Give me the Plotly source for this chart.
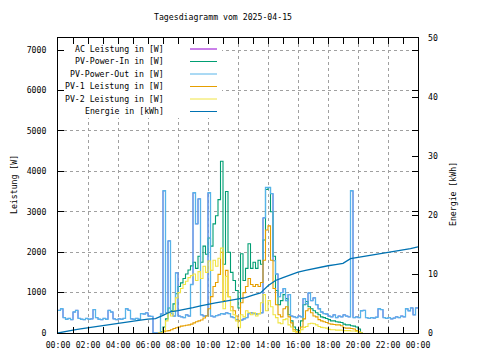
import pandas as pd
import plotly.graph_objects as go

# ---------------- data ----------------
title_text = "Tagesdiagramm vom 2025-04-15"

# full-day grid (10 min) for the output / AC power
times_full = pd.date_range("2025-04-15 00:00", "2025-04-16 00:00", freq="10min")
# daytime grid (10 min) for PV inputs
times_day = pd.date_range("2025-04-15 06:40", "2025-04-15 20:20", freq="10min")
# energy grid (30 min)
times_energy = pd.date_range("2025-04-15 00:00", "2025-04-16 00:00", freq="30min")

pv_power_out_w = [
    560, 600, 380, 340, 360, 330,
    520, 560, 360, 340, 330, 360,
    340, 350, 580, 380, 340, 330,
    360, 340, 560, 520, 350, 330,
    350, 340, 360, 600, 560, 350,
    340, 360, 340, 480, 470, 500,
    420, 410, 0, 0, 0, 470,
    3520, 500, 2280, 480, 420, 1490,
    420, 400, 380, 450, 420, 1200,
    3470, 2700, 3320, 450, 420, 430,
    3470, 420, 400, 430, 450, 480,
    470, 500, 480, 400, 380, 330,
    300, 320, 350, 380, 480, 500,
    480, 470, 480, 500, 2850, 3600,
    3600, 3450, 1790, 1460, 900, 1000,
    1100, 800, 950, 420, 400, 380,
    420, 400, 850, 720, 990, 800,
    870, 700, 600, 520, 480, 470,
    420, 400, 450, 380, 420, 400,
    450, 420, 400, 3520, 380, 400,
    380, 550, 560, 380, 360, 380,
    370, 390, 600, 580, 380, 360,
    380, 350, 370, 400, 380, 420,
    400, 600, 550, 620, 450, 620,
    620,
]
ac_leistung_w = pv_power_out_w  # AC power follows the output curve

pv_power_in_w = [
    0, 30,
    150, 350, 620, 550, 720, 970,
    1150, 1240, 1350, 1460, 1560, 1660,
    1750, 1600, 1900, 1750, 2150, 1950,
    2350, 2150, 2700, 2900, 3300, 4250,
    1700, 3500, 2000, 1500, 1300, 1050,
    620, 1960, 1300, 1600, 2210, 1600,
    1750, 1600, 1800, 1700, 2300, 3550,
    3600, 3000, 1900, 1050, 700, 800,
    950, 850, 450, 300, 150, 80,
    60, 300, 700, 780, 650, 600,
    550, 500, 450, 400, 380, 360,
    330, 300, 300, 280, 270, 260,
    220, 200, 200, 180, 170, 150,
    100, 0, 0,
]

pv1_w = [
    0, 0,
    30, 50, 60, 80, 110, 130,
    150, 170, 180, 190, 200, 220,
    250, 280, 300, 320, 370, 420,
    600, 900, 1150, 1250, 1450, 2000,
    800, 1550, 900, 650, 550, 420,
    300, 750, 1000, 1150, 1350, 1200,
    1150, 1200, 1150, 1250, 1800, 2550,
    2650, 1800, 1100, 700, 450, 400,
    600, 650, 400, 250, 80, 30,
    20, 150, 350, 550, 600, 500,
    420, 400, 330, 300, 280, 260,
    230, 220, 210, 200, 200, 180,
    130, 120, 120, 110, 100, 60,
    30, 0, 0,
]

pv2_w = [
    0, 0,
    60, 300, 500, 420, 550, 870,
    1000, 1100, 1200, 1280, 1370, 1420,
    1460, 1300, 1520, 1350, 1650, 1500,
    1780, 1550, 1800, 1650, 1850, 2100,
    600, 1400, 900, 550, 450, 300,
    130, 450, 400, 550, 500, 450,
    500, 420, 480, 750, 950, 550,
    800, 650, 450, 380, 250, 230,
    330, 350, 200, 150, 40, 20,
    20, 80, 140, 160, 230, 240,
    230, 200, 160, 140, 130, 120,
    90, 80, 80, 70, 70, 70,
    60, 60, 60, 50, 50, 40,
    20, 0, 0,
]

energie_kwh = [
    0, 0.3, 0.5, 0.7, 0.9, 1.1, 1.3, 1.5, 1.6, 1.8, 2.0, 2.2, 2.35, 2.45,
    3.0, 3.6, 3.8, 4.0, 4.3, 4.6, 4.9, 5.1, 5.3, 5.5, 5.7, 6.0, 6.4, 6.8,
    8.0, 8.9, 9.4, 9.9, 10.3, 10.6, 10.9, 11.2, 11.4, 11.6, 11.8, 12.6,
    12.8, 13.0, 13.2, 13.4, 13.6, 13.9, 14.1, 14.3, 14.6,
]

series_names = [
    "AC Leistung in [W]",
    "PV-Power-In in [W]",
    "PV-Power-Out in [W]",
    "PV-1 Leistung in [W]",
    "PV-2 Leistung in [W]",
    "Energie in [kWh]",
]
series_colors = ["#9400d3", "#009e73", "#56b4e9", "#e69f00", "#f0e442", "#0072b2"]

# ---------------- layout geometry ----------------
# The page body adds an 8px offset; screen plot area is x 58..418, y 38..333.
OFF = 8
W, H = 480 - OFF, 360 - OFF
X0, X1, Y0, Y1 = 58, 418, 38, 333
L, R = X0 - OFF, W - (X1 - OFF)
T, B = Y0 - OFF, H - (Y1 - OFF)
X_START = pd.Timestamp("2025-04-15 00:00")
X_END = pd.Timestamp("2025-04-16 00:00")
Y_MAX = 7300


def px(x):  # screen x -> paper
    return (x - X0) / (X1 - X0)


def py(y):  # screen y -> paper
    return (Y1 - y) / (Y1 - Y0)


FONT = dict(family="DejaVu Sans Mono", size=8.2, color="black")

fig = go.Figure()
series = [
    (times_full, ac_leistung_w, 0.8),
    (times_day, pv_power_in_w, 1.1),
    (times_full, pv_power_out_w, 1.3),
    (times_day, pv1_w, 1.1),
    (times_day, pv2_w, 1.1),
]
for (tx, vals, lw), name, col in zip(series, series_names[:5], series_colors[:5]):
    fig.add_trace(go.Scatter(x=tx, y=vals, name=name, mode="lines",
                             line=dict(color=col, width=lw, shape="hv"),
                             yaxis="y", showlegend=False))
fig.add_trace(go.Scatter(x=times_energy, y=energie_kwh, name=series_names[5],
                         mode="lines", line=dict(color=series_colors[5], width=1.3),
                         yaxis="y2", showlegend=False))

grid = dict(showgrid=True, gridcolor="#a0a0a0", gridwidth=1, griddash="3px,3px")

fig.update_layout(
    width=W, height=H,
    margin=dict(l=L, r=R, t=T, b=B, pad=0),
    paper_bgcolor="white", plot_bgcolor="white",
    font=FONT,
    showlegend=False,
    xaxis=dict(
        type="date", automargin=False,
        range=[X_START, X_END],
        tickformat="%H:%M", tick0="2025-04-15 00:00", dtick=7200000,
        ticks="inside", ticklen=6, tickcolor="black",
        showline=True, linecolor="black", linewidth=1, mirror="allticks",
        zeroline=False, tickfont=FONT, ticklabelstandoff=4,
        minor=dict(dtick=3600000, ticks="inside", ticklen=3, tickcolor="black", showgrid=False),
        **grid,
    ),
    yaxis=dict(
        automargin=False,
        range=[0, Y_MAX], dtick=1000, tick0=0,
        ticks="inside", ticklen=6, tickcolor="black",
        showline=True, linecolor="black", linewidth=1, mirror="allticks",
        zeroline=False, tickfont=FONT, ticklabelstandoff=9,
        **grid,
    ),
    yaxis2=dict(
        automargin=False,
        overlaying="y", side="right",
        range=[0, 50], dtick=10, tick0=0,
        ticks="inside", ticklen=6, tickcolor="black",
        showline=False, showgrid=False, zeroline=False,
        tickfont=FONT, ticklabelstandoff=9,
    ),
)

annotations = [
    dict(text=title_text, x=px(223), y=py(17), xref="paper", yref="paper",
         showarrow=False, font=FONT, xanchor="center", yanchor="middle"),
    dict(text="Leistung [W]", x=px(14), y=py(185), xref="paper", yref="paper",
         showarrow=False, font=FONT, textangle=-90, xanchor="center", yanchor="middle"),
    dict(text="Energie [kWh]", x=px(453), y=py(194), xref="paper", yref="paper",
         showarrow=False, font=FONT, textangle=-90, xanchor="center", yanchor="middle"),
]

# opaque key box: hides the grid behind the legend (between grid and traces)
key_x1 = X_START + (X_END - X_START) * px(222)
key_y0 = Y_MAX * py(118)
shapes = [dict(type="rect", xref="x", yref="y", layer="between",
               x0=X_START, x1=key_x1, y0=key_y0, y1=Y_MAX,
               fillcolor="white", line=dict(width=0))]
for i, (name, col) in enumerate(zip(series_names, series_colors)):
    yrow = 49 + 12.5 * i
    annotations.append(dict(text=name, x=px(166), y=py(yrow), xref="paper", yref="paper",
                            showarrow=False, font=FONT, xanchor="right", yanchor="middle"))
    shapes.append(dict(type="line", xref="paper", yref="paper",
                       x0=px(190), x1=px(217), y0=py(yrow), y1=py(yrow),
                       line=dict(color=col, width=1)))

fig.update_layout(annotations=annotations, shapes=shapes)

fig.write_html("out.html")
